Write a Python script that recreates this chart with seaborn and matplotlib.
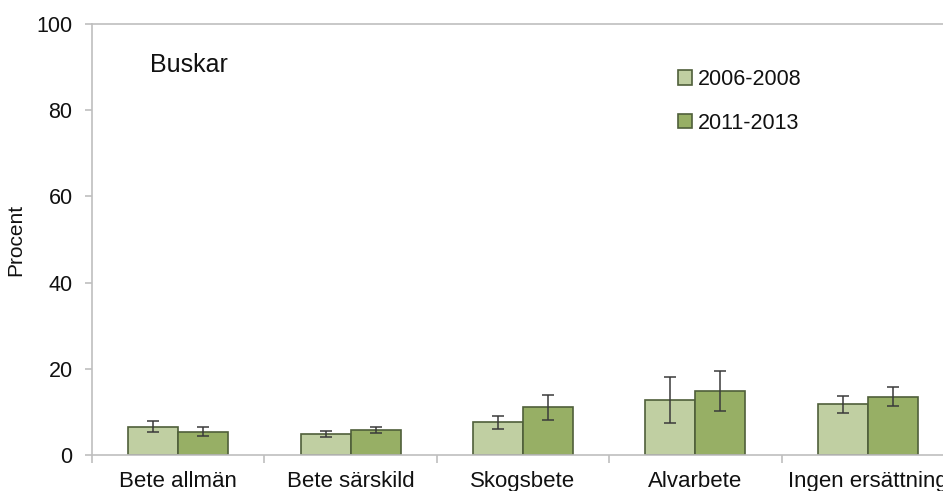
import pandas as pd
import matplotlib.pyplot as plt
import seaborn as sns

sns.set_style("white")
plt.rcParams["font.family"] = ["Liberation Sans", "DejaVu Sans"]
plt.rcParams["text.color"] = "#111111"
plt.rcParams["axes.labelcolor"] = "#111111"
plt.rcParams["xtick.labelcolor"] = "#111111"
plt.rcParams["ytick.labelcolor"] = "#111111"

# Data
categories = ["Bete allmän", "Bete särskild", "Skogsbete", "Alvarbete", "Ingen ersättning"]
periods = ["2006-2008", "2011-2013"]
values_0608 = [6.6, 4.9, 7.6, 12.8, 11.8]
values_1113 = [5.4, 5.8, 11.1, 14.8, 13.5]
err_0608 = [1.3, 0.75, 1.5, 5.3, 2.0]
err_1113 = [1.1, 0.75, 2.9, 4.7, 2.2]

colors = ["#c3d69b", "#9bbb59"]
edge = "#4f5f3a"

df = pd.DataFrame({
    "Kategori": categories * 2,
    "Period": [periods[0]] * 5 + [periods[1]] * 5,
    "Procent": values_0608 + values_1113,
    "err": err_0608 + err_1113,
})

fig = plt.figure(figsize=(9.43, 4.91), dpi=100)
# the reference is cropped on the right, so the axes run past the figure edge
ax = fig.add_axes([92 / 943, 36 / 491, (954 - 92) / 943, 431 / 491])

sns.barplot(data=df, x="Kategori", y="Procent", hue="Period", order=categories,
            hue_order=periods, palette=colors, width=0.58, errorbar=None,
            edgecolor=edge, linewidth=1.2, ax=ax)

# error bars at the centre of each bar, in the same order seaborn draws them
bars = [p for p in ax.patches if p.get_height() > 0]
errs = err_0608 + err_1113
for p, e in zip(bars, errs):
    ax.errorbar(p.get_x() + p.get_width() / 2, p.get_height(), yerr=e,
                color="#3a3a3a", capsize=4, elinewidth=1.1, capthick=1.1)

ax.set_ylim(0, 100)
ax.set_xlim(-0.5, 4.5)
ax.set_yticks([0, 20, 40, 60, 80, 100])
ax.set_xlabel("")
ax.set_ylabel("Procent", fontsize=15, labelpad=8)

for side in ["left", "bottom", "top"]:
    ax.spines[side].set_visible(True)
    ax.spines[side].set_color("#bfbfbf")
    ax.spines[side].set_linewidth(1.2)
ax.spines["right"].set_visible(False)

ax.tick_params(axis="y", left=True, length=5, width=1.2, color="#bfbfbf",
               labelsize=15.5, pad=9)
ax.tick_params(axis="x", which="major", bottom=False, labelsize=16, pad=8)
ax.set_xticks([-0.5, 0.5, 1.5, 2.5, 3.5, 4.5], minor=True)
ax.tick_params(axis="x", which="minor", bottom=True, length=6, width=1.2,
               color="#bfbfbf")

ax.text(0.067, 0.905, "Buskar", transform=ax.transAxes, fontsize=18,
        va="center", ha="left")

handles, labels = ax.get_legend_handles_labels()
ax.legend(handles, labels, loc="upper left", bbox_to_anchor=(0.657, 0.94),
          frameon=False, fontsize=15.5, handlelength=0.65, handleheight=0.65,
          handletextpad=0.3, labelspacing=1.05)

fig.savefig("out.png", dpi=100)
